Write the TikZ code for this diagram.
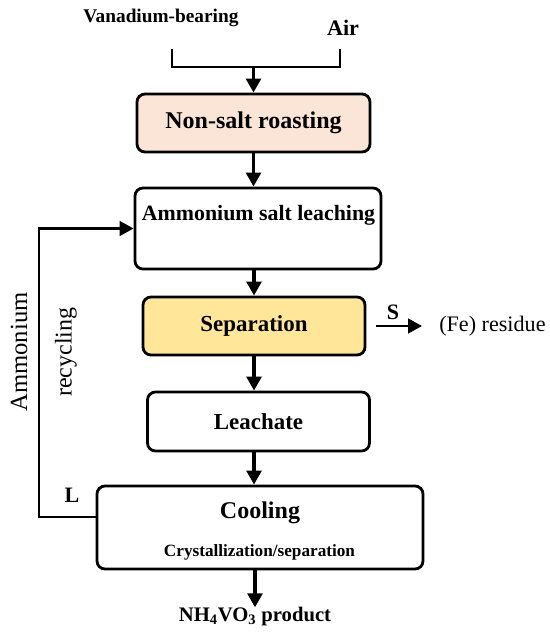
\documentclass[tikz,border=0pt]{standalone}
\usepackage{fontspec}
\setmainfont{Liberation Serif}
\usepackage{xcolor}
\definecolor{peach}{HTML}{FBE5D6}
\definecolor{sand}{HTML}{FFE699}
\usepackage{tikz}
\usetikzlibrary{arrows.meta,positioning,calc}
\tikzset{
  >={Triangle[length=10.5pt,width=11pt]},
  box/.style={draw=black,rounded corners=6pt,line width=2.1pt,inner sep=0pt,align=center,fill=white,font=\fsz{17}\bfseries},
  pbox/.style={box,fill=peach},
  ybox/.style={box,fill=sand},
  lab/.style={inner sep=0pt,font=\fsz{17}\bfseries},
  rlab/.style={inner sep=0pt,font=\fsz{18.5},rotate=90},
  arr/.style={->,draw=black,line width=2.6pt},
  ln/.style={draw=black,line width=2pt},
}
\newcommand{\fsz}[1]{\fontsize{#1}{#1}\selectfont}

\begin{document}
\begin{tikzpicture}[x=0.75pt,y=-0.75pt]
\useasboundingbox (0,0) rectangle (550,636);
% feeds
\node[lab,font=\fsz{14.5}\bfseries] (van) at (161,18) {Vanadium-bearing};
\node[lab,font=\fsz{16.6}\bfseries] (air) at (343,28) {Air};
\coordinate (brl) at (172,49);
\coordinate (brr) at (340,49);
\coordinate (brm) at (253.5,67);
\draw[ln] (brl) |- (brm) -| (brr);
% main chain
\node[pbox,minimum width=174.75pt,minimum height=43.5pt,font=\fsz{18}\bfseries] (roast) at (253.5,123) {Non-salt roasting};
\node[box,minimum width=184.5pt,minimum height=60.75pt] (leach) at (258,228.5) {};
\node[lab,font=\fsz{16.4}\bfseries] (leachtxt) at (258.5,215) {Ammonium salt leaching};
\node[ybox,minimum width=166.5pt,minimum height=43.5pt,font=\fsz{17.2}\bfseries] (sep) at (254,326) {Separation};
\node[box,minimum width=166.5pt,minimum height=44.25pt,font=\fsz{17.2}\bfseries] (lea) at (258.5,421.5) {Leachate};
\node[box,minimum width=244.5pt,minimum height=62.25pt] (cool) at (260,527.5) {};
\node[lab,font=\fsz{18}\bfseries] (cooltxt) at (260,513) {Cooling};
\node[lab,font=\fsz{12.9}\bfseries] (crys) at (259.5,552) {Crystallization/separation};
\node[lab,font=\fsz{15.5}\bfseries] (prod) at (255,617) {NH\textsubscript{4}VO\textsubscript{3} product};
\draw[arr] (brm) -- (roast.north);
\draw[arr] (roast.south) -- (roast.south |- leach.north);
\draw[arr] (sep.north |- leach.south) -- (sep.north);
\draw[arr] (sep.south) -- (sep.south |- lea.north);
\draw[arr] ($(sep.south |- lea.south)$) -- (sep.south |- cool.north);
\draw[arr] (prod.north |- cool.south) -- (prod.north);
% residue
\node[lab,font=\fsz{16.6}] (res) at (439,326) [anchor=west] {(Fe) residue};
\node[lab,font=\fsz{16.5}\bfseries] (slab) at (393,312) {S};
\draw[arr,line width=2pt] ([xshift=7.5pt]sep.east) -- ([xshift=-12.75pt]res.west);
% recycle loop
\coordinate (lp) at (39,517);
\draw[arr,line width=2pt] (cool.west |- lp) -- (lp) |- (leach.west);
\node[lab,font=\fsz{16.5}\bfseries] (llab) at (72,495) {L};
\node[rlab] (amm) at (19,352) {Ammonium};
\node[rlab,font=\fsz{18}] (rec) at (66,352) {recycling};
\end{tikzpicture}
\end{document}
